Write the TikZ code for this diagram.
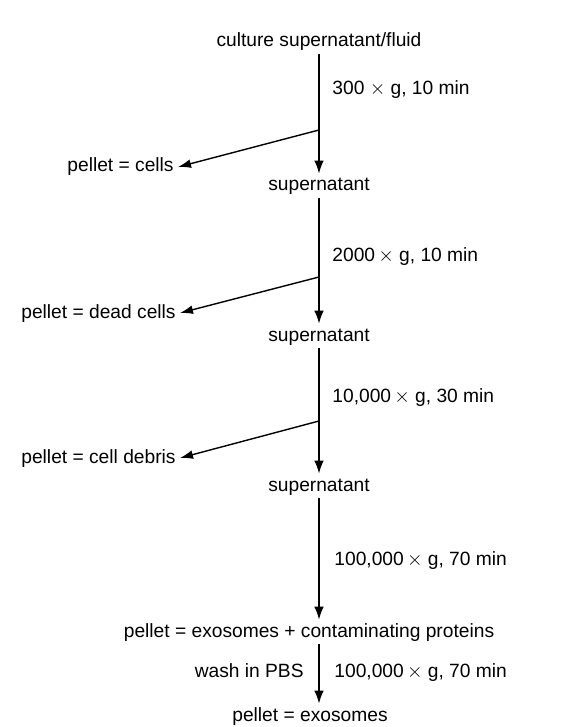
\documentclass[tikz,border=0pt]{standalone}
\usepackage{fontspec}
\setmainfont{Liberation Sans}
\usetikzlibrary{arrows.meta}
\newcommand{\tms}{$\times$}
\begin{document}
\begin{tikzpicture}[x=0.5pt,y=-0.5pt,
  txt/.style={font=\fontsize{9.6}{11}\selectfont, inner xsep=2pt, inner ysep=1.5pt, text height=7pt, text depth=2pt},
  arr/.style={line width=0.7pt, -{Latex[length=6.5pt,width=4.8pt]}},
  brline/.style={line width=0.7pt, -{Latex[length=6.5pt,width=4.4pt]}}
]
\useasboundingbox (0,0) rectangle (562,727);
% main column
\node[txt] (top) at (319,42) {culture supernatant/fluid};
\node[txt] (s1) at (319,186) {supernatant};
\node[txt] (s2) at (319,336) {supernatant};
\node[txt] (s3) at (319,486) {supernatant};
\node[txt] (px) at (309,632) {pellet = exosomes + contaminating proteins};
\node[txt] (pe) at (310,716) {pellet = exosomes};
% branch points
\coordinate (b1) at (319,130);
\coordinate (b2) at (319,277);
\coordinate (b3) at (319,421);
% pellets
\node[txt, anchor=east] (p1) at (178,167) {pellet = cells};
\node[txt, anchor=east] (p2) at (180,313) {pellet = dead cells};
\node[txt, anchor=east] (p3) at (180,458) {pellet = cell debris};
% labels
\node[txt, anchor=west] (l1) at (328,90) {300 \tms{} g, 10 min};
\node[txt, anchor=west] (l2) at (328,256) {2000\,\tms{} g, 10 min};
\node[txt, anchor=west] (l3) at (328,397) {10,000\,\tms{} g, 30 min};
\node[txt, anchor=west] (l4) at (330,560) {100,000\,\tms{} g, 70 min};
\node[txt, anchor=west] (l5) at (330,672) {100,000\,\tms{} g, 70 min};
\node[txt, anchor=east] (w) at (308,672) {wash in PBS};
% connectors
\draw[arr] (top) -- (s1);
\draw[arr] (s1) -- (s2);
\draw[arr] (s2) -- (s3);
\draw[arr] (s3) -- (s3 |- px.north);
\draw[arr] (px.south -| s3) -- (pe.north -| s3);
\draw[brline] (b1) -- (p1.east);
\draw[brline] (b2) -- (p2.east);
\draw[brline] (b3) -- (p3.east);
\end{tikzpicture}
\end{document}
